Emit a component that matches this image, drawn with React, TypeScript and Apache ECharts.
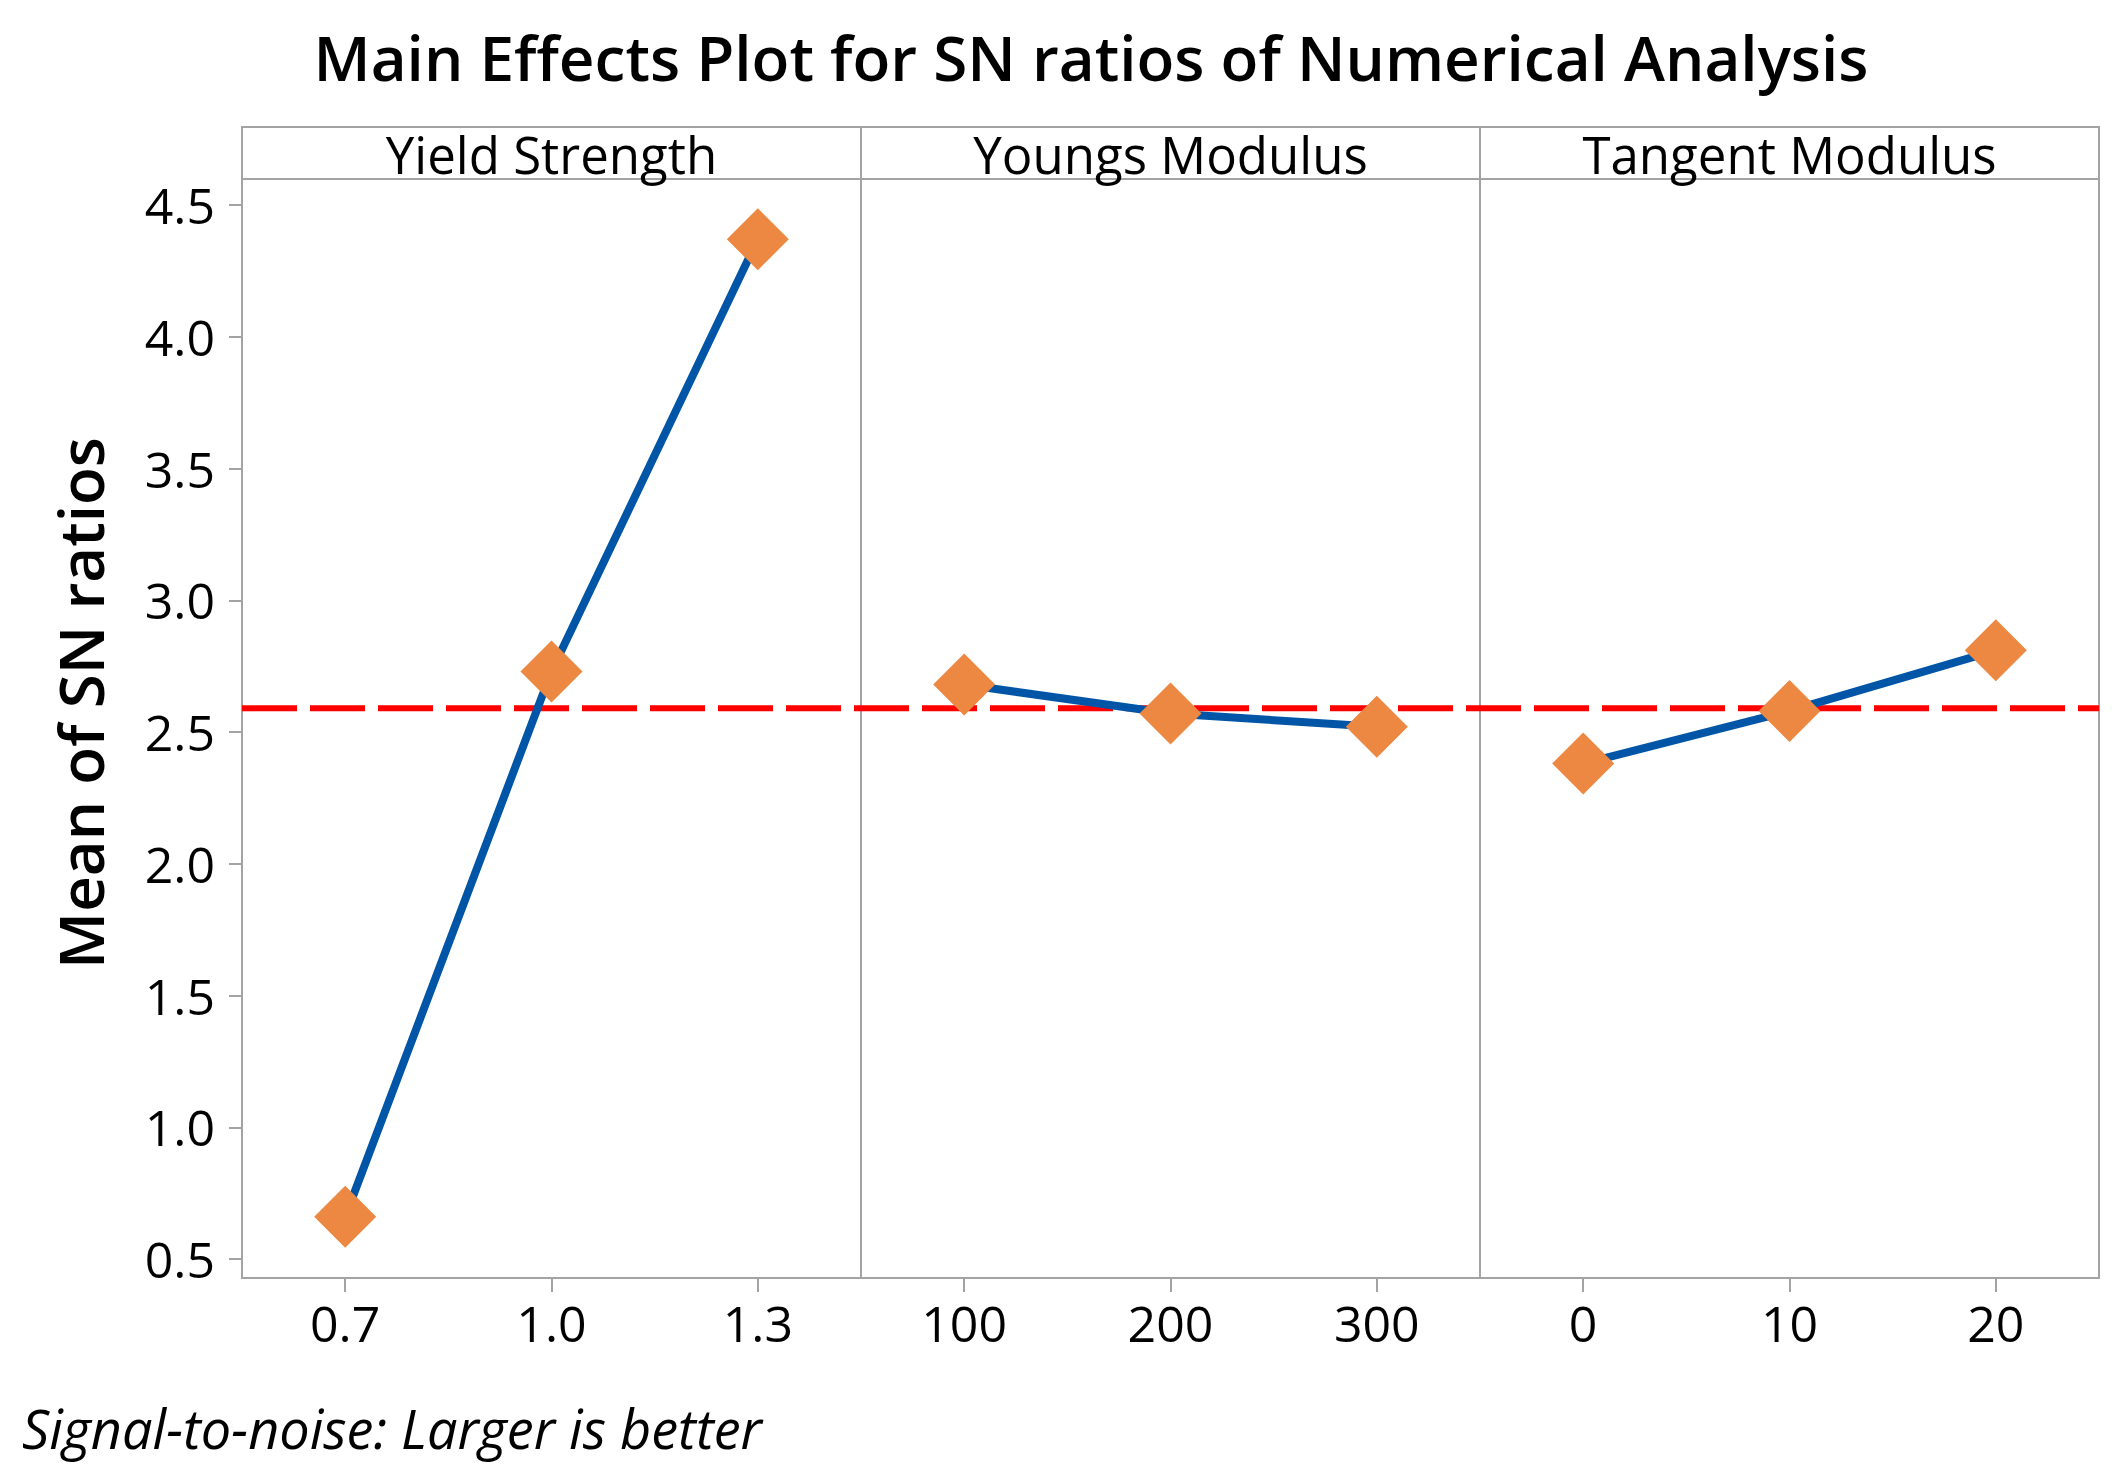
import React, { useEffect, useRef } from "react";
import * as echarts from "echarts";

// ---- data ----
const chartTitle = "Main Effects Plot for SN ratios of Numerical Analysis";
const panelNames = ["Yield Strength", "Youngs Modulus", "Tangent Modulus"];
const yieldLevels = ["0.7", "1.0", "1.3"];
const yieldMeans = [0.66, 2.73, 4.37];
const youngsLevels = ["100", "200", "300"];
const youngsMeans = [2.68, 2.57, 2.52];
const tangentLevels = ["0", "10", "20"];
const tangentMeans = [2.38, 2.58, 2.81];
const overallMean = 2.59;
const yMin = 0.5;
const yMax = 4.5;
const yStep = 0.5;
const yAxisTitle = "Mean of SN ratios";
const footnote = "Signal-to-noise: Larger is better";

// ---- layout ----
const W = 2120;
const H = 1477;
const plotLeft = 242;
const panelW = 619;
const frameTop = 127;
const stripBottom = 179;
const frameBottom = 1278;
const gridTop = 205; // value 4.5
const gridBottomPx = 1259; // value 0.5
const FONT = "'Open Sans', 'Noto Sans', sans-serif";
const GRAY = "#a3a3a3";
const BLUE = "#0055a6";
const ORANGE = "#ec8842";

export default function App() {
  const ref = useRef<HTMLDivElement>(null);
  useEffect(() => {
    document.body.style.margin = "0";
    if (!ref.current) return;
    const chart = echarts.init(ref.current, null, { renderer: "svg" });
    const levels = [yieldLevels, youngsLevels, tangentLevels];
    const means = [yieldMeans, youngsMeans, tangentMeans];
    const gridH = gridBottomPx - gridTop;
    const grids: any[] = [0, 1, 2].map((i) => ({
      left: plotLeft + panelW * i,
      top: gridTop,
      width: panelW,
      height: gridH,
      containLabel: false,
      outerBoundsMode: "none",
    }));
    grids.push({
      left: plotLeft,
      top: gridTop,
      width: panelW * 3,
      height: gridH,
      containLabel: false,
      outerBoundsMode: "none",
    });
    const xAxes: any[] = [0, 1, 2].map((i) => ({
      type: "category",
      gridIndex: i,
      data: levels[i],
      boundaryGap: true,
      position: "bottom",
      offset: frameBottom - gridBottomPx,
      axisLine: { show: false },
      axisTick: {
        show: true,
        alignWithLabel: true,
        length: 14,
        lineStyle: { color: GRAY, width: 2 },
      },
      axisLabel: {
        fontSize: 50,
        fontWeight: 500,
        color: "#000",
        fontFamily: FONT,
        margin: 20,
      },
      splitLine: { show: false },
    }));
    xAxes.push({
      type: "value",
      gridIndex: 3,
      min: 0,
      max: 1,
      show: false,
    });
    const yAxes: any[] = [0, 1, 2, 3].map((i) => ({
      type: "value",
      gridIndex: i,
      min: yMin,
      max: yMax,
      interval: yStep,
      show: i === 0,
      axisLine: { show: false },
      axisTick: {
        show: i === 0,
        length: 13,
        lineStyle: { color: GRAY, width: 2 },
      },
      axisLabel: {
        show: i === 0,
        fontSize: 50,
        fontWeight: 500,
        color: "#000",
        fontFamily: FONT,
        margin: 27,
        formatter: (v: number) => v.toFixed(1),
      },
      splitLine: { show: false },
    }));
    const series: any[] = [0, 1, 2].map((i) => ({
      type: "line",
      xAxisIndex: i,
      yAxisIndex: i,
      data: means[i],
      symbol: "diamond",
      symbolSize: 62,
      showSymbol: true,
      itemStyle: { color: ORANGE },
      lineStyle: { color: BLUE, width: 8 },
      z: 5,
    }));
    series.unshift({
      type: "line",
      xAxisIndex: 3,
      yAxisIndex: 3,
      data: [
        [0, overallMean],
        [1, overallMean],
      ],
      symbol: "none",
      lineStyle: { color: "#ff0000", width: 6, type: [55, 13] },
      z: 1,
    });

    const graphic: any[] = [
      {
        type: "rect",
        shape: {
          x: plotLeft,
          y: frameTop,
          width: panelW * 3,
          height: frameBottom - frameTop,
        },
        style: { fill: "none", stroke: GRAY, lineWidth: 2 },
        z: 0,
      },
      {
        type: "line",
        shape: { x1: plotLeft, y1: stripBottom, x2: plotLeft + panelW * 3, y2: stripBottom },
        style: { stroke: GRAY, lineWidth: 2 },
      },
      ...[1, 2].map((i) => ({
        type: "line",
        shape: {
          x1: plotLeft + panelW * i,
          y1: frameTop,
          x2: plotLeft + panelW * i,
          y2: frameBottom,
        },
        style: { stroke: GRAY, lineWidth: 2 },
      })),
      ...panelNames.map((name, i) => ({
        type: "text",
        x: plotLeft + panelW * i + panelW / 2,
        y: (frameTop + stripBottom) / 2 + 1,
        style: {
          text: name,
          fontSize: 51,
          fontWeight: 500,
          fontFamily: FONT,
          fill: "#000",
          align: "center",
          verticalAlign: "middle",
        },
      })),
      {
        type: "text",
        x: 1091,
        y: 57,
        style: {
          text: chartTitle,
          fontSize: 62,
          fontWeight: 600,
          fontFamily: FONT,
          fill: "#000",
          align: "center",
          verticalAlign: "middle",
        },
      },
      {
        type: "text",
        x: 80,
        y: 703,
        rotation: Math.PI / 2,
        style: {
          text: yAxisTitle,
          fontSize: 62,
          fontWeight: 600,
          fontFamily: FONT,
          fill: "#000",
          align: "center",
          verticalAlign: "middle",
        },
      },
      {
        type: "text",
        x: 22,
        y: 1428,
        style: {
          text: footnote,
          fontSize: 54,
          fontStyle: "italic",
          fontFamily: FONT,
          fill: "#000",
          align: "left",
          verticalAlign: "middle",
        },
      },
    ];

    chart.setOption({
      animation: false,
      backgroundColor: "#fff",
      grid: grids,
      xAxis: xAxes,
      yAxis: yAxes,
      series,
      graphic,
    });
    return () => chart.dispose();
  }, []);
  return <div ref={ref} style={{ width: W, height: H }} />;
}
